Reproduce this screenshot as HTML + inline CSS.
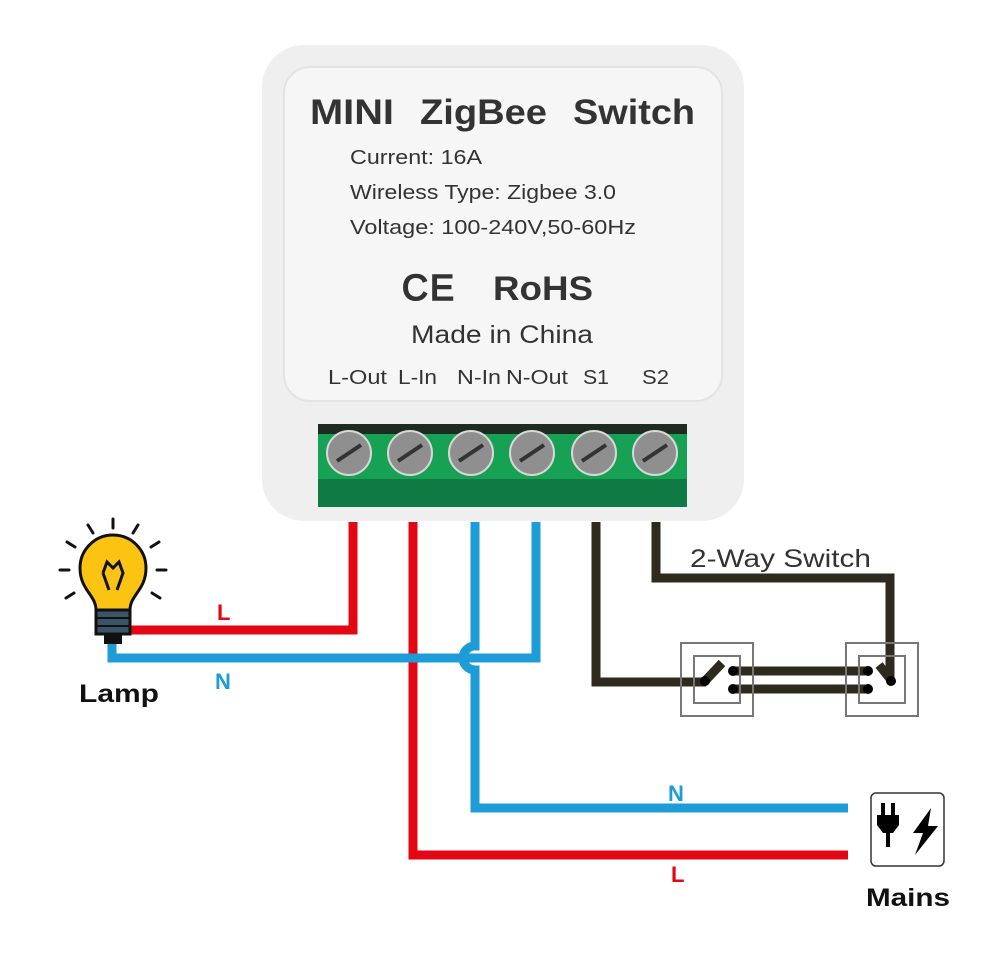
<!DOCTYPE html>
<html><head><style>
body{margin:0;background:#fff;}
svg{display:block;font-family:"Liberation Sans",sans-serif;}
</style></head><body>
<svg width="1000" height="956" viewBox="0 0 1000 956" xmlns="http://www.w3.org/2000/svg">
<rect x="262" y="45" width="482" height="476" rx="42" fill="#efefef"/>
<rect x="284" y="67" width="438" height="334" rx="26" fill="#f6f6f6" stroke="#e3e3e3" stroke-width="2"/>
<text x="310" y="124" font-size="35" font-weight="bold" fill="#333" textLength="84" lengthAdjust="spacingAndGlyphs">MINI</text>
<text x="420" y="124" font-size="35" font-weight="bold" fill="#333" textLength="127" lengthAdjust="spacingAndGlyphs">ZigBee</text>
<text x="573" y="124" font-size="35" font-weight="bold" fill="#333" textLength="122" lengthAdjust="spacingAndGlyphs">Switch</text>
<text x="350" y="164" font-size="20" fill="#333" textLength="132" lengthAdjust="spacingAndGlyphs">Current: 16A</text>
<text x="350" y="199" font-size="20" fill="#333" textLength="266" lengthAdjust="spacingAndGlyphs">Wireless Type: Zigbee 3.0</text>
<text x="350" y="234" font-size="20" fill="#333" textLength="286" lengthAdjust="spacingAndGlyphs">Voltage: 100-240V,50-60Hz</text>
<text x="402" y="300" font-size="36" fill="#333" stroke="#333" stroke-width="1.5">C</text>
<text x="430" y="300" font-size="36" fill="#333" stroke="#333" stroke-width="1.5">E</text>
<text x="493" y="300" font-size="34" font-weight="bold" fill="#333" textLength="100" lengthAdjust="spacingAndGlyphs">RoHS</text>
<text x="411" y="343" font-size="25" fill="#333" textLength="182" lengthAdjust="spacingAndGlyphs">Made in China</text>
<g font-size="20" fill="#333">
<text x="328" y="384" textLength="59" lengthAdjust="spacingAndGlyphs">L-Out</text><text x="398" y="384" textLength="39" lengthAdjust="spacingAndGlyphs">L-In</text>
<text x="457" y="384" textLength="44" lengthAdjust="spacingAndGlyphs">N-In</text><text x="506" y="384" textLength="62" lengthAdjust="spacingAndGlyphs">N-Out</text>
<text x="583" y="384" textLength="26" lengthAdjust="spacingAndGlyphs">S1</text><text x="642" y="384" textLength="27" lengthAdjust="spacingAndGlyphs">S2</text>
</g>
<rect x="318" y="424" width="369" height="83" fill="#0f7a43"/>
<rect x="318" y="424" width="369" height="10" fill="#1f2a22"/>
<rect x="318" y="434" width="369" height="45" fill="#17a155"/>
<g fill="#8f8f8f" stroke="#d8d8d8" stroke-width="2">
<circle cx="349" cy="453" r="22"/><circle cx="410" cy="453" r="22"/><circle cx="471" cy="453" r="22"/>
<circle cx="532" cy="453" r="22"/><circle cx="594" cy="453" r="22"/><circle cx="655" cy="453" r="22"/>
</g>
<g stroke="#333" stroke-width="4">
<line x1="337" y1="461" x2="361" y2="445"/><line x1="398" y1="461" x2="422" y2="445"/>
<line x1="459" y1="461" x2="483" y2="445"/><line x1="520" y1="461" x2="544" y2="445"/>
<line x1="582" y1="461" x2="606" y2="445"/><line x1="643" y1="461" x2="667" y2="445"/>
</g>
<g fill="none" stroke-width="9">
<polyline points="353,522 353,630 128,630" stroke="#e30613"/>
<polyline points="413,522 413,855 848,855" stroke="#e30613"/>
<path d="M475,522 V646 A12 12 0 0 0 475 670 V808 H848" stroke="#1e9cd7"/>
<path d="M536,522 V658 H112 V640" stroke="#1e9cd7"/>
<polyline points="596,522 596,682 706,682" stroke="#2e2a1e"/>
<polyline points="656,522 656,578 890,578 890,680" stroke="#2e2a1e"/>
<line x1="733" y1="671" x2="868" y2="671" stroke="#2e2a1e"/>
<line x1="733" y1="689" x2="868" y2="689" stroke="#2e2a1e"/>
<line x1="705" y1="681" x2="722" y2="663" stroke="#2e2a1e"/>
<line x1="891" y1="680" x2="879" y2="665" stroke="#2e2a1e"/>
</g>
<g fill="none" stroke="#777" stroke-width="2">
<rect x="681" y="643" width="72" height="73"/><rect x="694" y="656" width="46" height="47"/>
<rect x="846" y="643" width="72" height="73"/><rect x="859" y="656" width="46" height="47"/>
</g>
<g fill="#000">
<circle cx="733" cy="671" r="5"/><circle cx="733" cy="689" r="5"/>
<circle cx="868" cy="671" r="5"/><circle cx="868" cy="689" r="5"/>
<circle cx="705" cy="681" r="5"/><circle cx="891" cy="681" r="5"/>
</g>
<text x="690" y="567" font-size="25" fill="#333" textLength="181" lengthAdjust="spacingAndGlyphs">2-Way Switch</text>
<text x="217" y="620" font-size="22" font-weight="bold" fill="#e30613">L</text>
<text x="215" y="689" font-size="22" font-weight="bold" fill="#1e9cd7">N</text>
<text x="668" y="801" font-size="22" font-weight="bold" fill="#1e9cd7">N</text>
<text x="671" y="882" font-size="22" font-weight="bold" fill="#e30613">L</text>
<g stroke="#111" stroke-width="3" stroke-linecap="round">
<line x1="113" y1="519" x2="113" y2="528"/><line x1="88" y1="525" x2="93" y2="533"/><line x1="138" y1="525" x2="133" y2="533"/>
<line x1="67" y1="542" x2="75" y2="547"/><line x1="159" y1="542" x2="151" y2="547"/>
<line x1="60" y1="570" x2="69" y2="570"/><line x1="157" y1="570" x2="166" y2="570"/>
<line x1="66" y1="598" x2="74" y2="593"/><line x1="160" y1="598" x2="152" y2="593"/>
</g>
<path d="M96,610 C96,595 80,590 80,568 A33 33 0 0 1 146,568 C146,590 130,595 130,610 Z" fill="#fbc312" stroke="#111" stroke-width="3"/>
<path d="M103,573 L107,562 L113,568 L119,562 L123,573 L117,590 M109,590 L103,573" fill="none" stroke="#111" stroke-width="3"/>
<rect x="96" y="610" width="34" height="24" fill="#3b5566" stroke="#111" stroke-width="3"/>
<line x1="96" y1="618" x2="130" y2="618" stroke="#111" stroke-width="2"/><line x1="96" y1="626" x2="130" y2="626" stroke="#111" stroke-width="2"/>
<rect x="104" y="634" width="18" height="10" fill="#111"/>
<text x="79" y="702" font-size="25" font-weight="bold" fill="#111" textLength="80" lengthAdjust="spacingAndGlyphs">Lamp</text>
<rect x="871" y="793" width="73" height="73" rx="5" fill="#fff" stroke="#333" stroke-width="1.5"/>
<rect x="881" y="803" width="4" height="12" fill="#000"/><rect x="891" y="803" width="4" height="12" fill="#000"/>
<path d="M877,815 H899 V825 L893,833 H883 L877,825 Z" fill="#000"/>
<rect x="886" y="832" width="4" height="15" fill="#000"/>
<path d="M931,808 L913,833 H923 L915,855 L938,826 H928 Z" fill="#000"/>
<text x="866" y="906" font-size="25" font-weight="bold" fill="#111" textLength="84" lengthAdjust="spacingAndGlyphs">Mains</text>
</svg>
</body></html>
